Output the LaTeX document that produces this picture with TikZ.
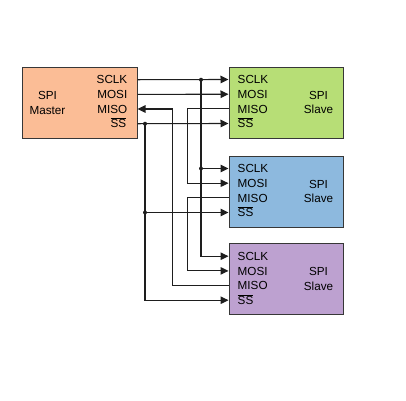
\documentclass[tikz,border=0pt]{standalone}
\usepackage{fontspec}
\setmainfont{Liberation Sans}
\usetikzlibrary{calc,arrows.meta}
\definecolor{masterc}{RGB}{251,189,150}
\definecolor{slaveA}{RGB}{183,222,118}
\definecolor{slaveB}{RGB}{141,185,222}
\definecolor{slaveC}{RGB}{189,161,208}
\definecolor{edgec}{RGB}{55,55,55}
\definecolor{wirec}{RGB}{30,30,30}
\begin{document}
\begin{tikzpicture}[x=1pt,y=-1pt,
  box/.style={draw=edgec,line width=1pt,minimum height=71pt,inner sep=0pt},
  pinlbl/.style={inner sep=0pt,text height=8.4pt,text depth=0pt,font=\fontsize{11.7}{13}\selectfont},
  title/.style={inner sep=0pt,align=center,font=\fontsize{11.7}{14.7}\selectfont},
  wire/.style={draw=wirec,line width=1.1pt},
  arr/.style={wire,-{Triangle[length=8pt,width=7.5pt]}},
  dot/.style={circle,fill=wirec,inner sep=0pt,minimum size=4pt}]
\useasboundingbox (0,0) rectangle (406,400);
% boxes
\node[box,fill=masterc,minimum width=115pt] (m) at (79.5,102.7) {};
\node[box,fill=slaveA,minimum width=114pt] (s1) at (286,102.5) {};
\node[box,fill=slaveB,minimum width=114pt] (s2) at (286,191.5) {};
\node[box,fill=slaveC,minimum width=114pt] (s3) at (286,279.2) {};
% titles
\node[title] (mt) at ($(m.west)+(26,0)$) {SPI\\Master};
\node[title] (s1t) at ($(s1.east)+(-25,0)$) {SPI\\Slave};
\node[title] (s2t) at ($(s2.east)+(-25,0)$) {SPI\\Slave};
\node[title] (s3t) at ($(s3.east)+(-25,0)$) {SPI\\Slave};
% master pins
\node[pinlbl,anchor=east] (m-sclk) at ($(m.north east)+(-10,13)$) {SCLK};
\node[pinlbl,anchor=east] (m-mosi) at ($(m.north east)+(-10,27.7)$) {MOSI};
\node[pinlbl,anchor=east] (m-miso) at ($(m.north east)+(-10,42.3)$) {MISO};
\node[pinlbl,anchor=east] (m-ss) at ($(m.north east)+(-11,57)$) {$\overline{\mbox{SS}}$};
% slave pins
\foreach \s in {s1,s2,s3}{
  \node[pinlbl,anchor=west] (\s-sclk) at ($(\s.north west)+(9,13)$) {SCLK};
  \node[pinlbl,anchor=west] (\s-mosi) at ($(\s.north west)+(9,27.7)$) {MOSI};
  \node[pinlbl,anchor=west] (\s-miso) at ($(\s.north west)+(9,42.3)$) {MISO};
  \node[pinlbl,anchor=west] (\s-ss) at ($(\s.north west)+(9,57)$) {$\overline{\mbox{SS}}$};
}
% bus columns
\coordinate (cA) at (145,0);
\coordinate (cB) at (172.5,0);
\coordinate (cC) at (187.5,0);
\coordinate (cD) at (201,0);
% SCLK
\draw[arr] (m.east |- m-sclk) -- (s1.west |- s1-sclk);
\draw[arr] (cD |- m-sclk) |- (s3.west |- s3-sclk);
\draw[arr] (cD |- s2-sclk) -- (s2.west |- s2-sclk);
\node[dot] (d1) at (cD |- m-sclk) {};
\node[dot] (d2) at (cD |- s2-sclk) {};
% MOSI chain
\draw[arr] (m.east |- m-mosi) -- (s1.west |- s1-mosi);
\draw[arr] (s1.west |- s1-miso) -| (cC |- s2-mosi) -- (s2.west |- s2-mosi);
\draw[arr] (s2.west |- s2-miso) -| (cC |- s3-mosi) -- (s3.west |- s3-mosi);
% MISO return
\draw[arr] (s3.west |- s3-miso) -| (cB |- m-miso) -- (m.east |- m-miso);
% SS
\draw[arr] (m.east |- m-ss) -- (s1.west |- s1-ss);
\draw[arr] (cA |- m-ss) |- (s3.west |- s3-ss);
\draw[arr] (cA |- s2-ss) -- (s2.west |- s2-ss);
\node[dot] (d3) at (cA |- m-ss) {};
\node[dot] (d4) at (cA |- s2-ss) {};
\end{tikzpicture}
\end{document}
